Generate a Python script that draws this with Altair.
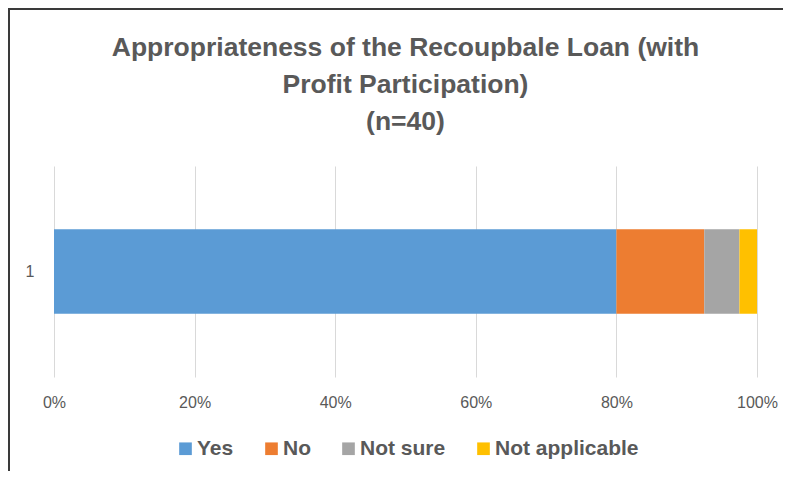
import altair as alt
import pandas as pd

# Data (n = 40 respondents)
categories = ["Yes", "No", "Not sure", "Not applicable"]
counts = [32, 5, 2, 1]
group_labels = ["1", "1", "1", "1"]
colors = ["#5B9BD5", "#ED7D31", "#A5A5A5", "#FFC000"]
tick_values = [0, 0.2, 0.4, 0.6, 0.8, 1.0]
title_lines = ["Appropriateness of the Recoupbale Loan (with",
               "Profit Participation)", "(n=40)"]

df = pd.DataFrame({
    "group": group_labels,
    "answer": categories,
    "count": counts,
    "rank": list(range(len(categories))),
})

FONT = "Liberation Sans"
TXT = "#595959"

bars = alt.Chart(df).mark_bar(stroke=None).encode(
    x=alt.X("count:Q", stack="normalize",
            scale=alt.Scale(domain=[0, 1], nice=False),
            axis=alt.Axis(title=None, format=".0%", values=tick_values,
                          grid=True, gridColor="#D9D9D9", gridWidth=1,
                          domain=False, ticks=False, labelFlush=False,
                          labelFontSize=16, labelColor=TXT, labelPadding=17)),
    y=alt.Y("group:N",
            scale=alt.Scale(paddingInner=0.6, paddingOuter=0.3),
            axis=alt.Axis(title=None, domain=False, ticks=False,
                          labelFontSize=16, labelColor=TXT, labelPadding=20)),
    color=alt.Color("answer:N",
                    scale=alt.Scale(domain=categories, range=colors),
                    legend=alt.Legend(title=None, orient="none",
                                      legendX=121, legendY=272,
                                      direction="horizontal",
                                      symbolType="square", symbolSize=160,
                                      symbolStrokeWidth=0,
                                      labelFont=FONT, labelFontSize=21,
                                      labelFontWeight="bold", labelColor=TXT,
                                      columnPadding=27, labelOffset=1)),
    order=alt.Order("rank:Q"),
)

frame_src = alt.Data(values=[{"k": 1}])
left_frame = alt.Chart(frame_src).mark_rule(color="#3A3A3A", strokeWidth=2).encode(
    x=alt.value(-45), y=alt.value(-158), y2=alt.value(305))
top_frame = alt.Chart(frame_src).mark_rule(color="#3A3A3A", strokeWidth=2).encode(
    y=alt.value(-157), x=alt.value(-46), x2=alt.value(740))

chart = alt.layer(bars, left_frame, top_frame).properties(
    width=703, height=211,
    autosize=alt.AutoSizeParams(type="none"),
    padding={"left": 46, "top": 158, "right": 26, "bottom": 94},
    title=alt.TitleParams(text=title_lines, anchor="middle", fontSize=26.5,
                          fontWeight="bold", color=TXT, font=FONT,
                          lineHeight=37, offset=30, dy=158),
).configure(font=FONT).configure_view(stroke=None)

chart.save("out.html", embed_options={"renderer": "svg", "actions": False})
